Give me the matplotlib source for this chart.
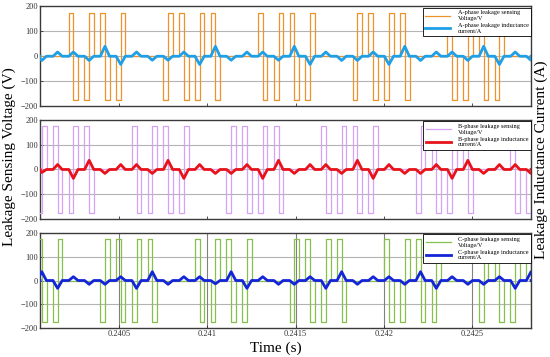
import numpy as np
import matplotlib
matplotlib.use("Agg")
import matplotlib.pyplot as plt

plt.rcParams['font.family'] = ['Liberation Serif', 'DejaVu Serif']

# switching slots (s)
slot_t = [0.2400604, 0.2401499, 0.2402394, 0.2403289, 0.2404184, 0.2405079,
          0.2405974, 0.2406869, 0.2407764, 0.2408659, 0.2409554, 0.2410449,
          0.2411344, 0.2412239, 0.2413134, 0.2414029, 0.2414924, 0.2415819,
          0.2416714, 0.2417609, 0.2418504, 0.2419399, 0.2420294, 0.2421189,
          0.2422084, 0.2422979, 0.2423874, 0.2424769, 0.2425664, 0.2426559,
          0.2427454, 0.2428349]

# sensing voltage pulse pairs per slot: +1 -> (+,-), -1 -> (-,+), 0 -> none
a_pulse = [0, 0, 1, -1, 1, -1, 0, 0, -1, 1, -1, 1, 0, 0, 1, -1,
           1, -1, 0, 0, -1, 1, -1, 1, 0, 0, 1, -1, 1, -1, 0, 0]
b_pulse = [-1, 1, -1, 1, 0, 0, 1, -1, 1, -1, 0, 0, -1, 1, -1, 1,
           0, 0, 1, -1, 1, -1, 0, 0, -1, 1, -1, 1, 0, 0, 1, -1]
c_pulse = [1, -1, 0, 0, -1, 1, -1, 1, 0, 0, 1, -1, 1, -1, 0, 0,
           -1, 1, -1, 1, 0, 0, 1, -1, 1, -1, 0, 0, -1, 1, -1, 1]
v_amp = 175  # V

# leakage inductance current peak at each slot (A)
a_cur = [-17, 17, 17, -17, 40, -33, 17, -16, -16, 17, -33, 40, -16, 17, 17, -16,
         40, -33, 17, -17, -17, 17, -33, 40, -17, 17, 17, -17, 40, -33, 17, -16]
b_cur = [-12, 20, -36, 37, -16, 20, 20, -16, 37, -36, 20, -16, -16, 20, -36, 37,
         -16, 20, 20, -16, 37, -36, 20, -16, -16, 20, -36, 37, -16, 20, 20, -16]
c_cur = [37, -33, 16, -16, -16, 16, -33, 37, -16, 16, 16, -14, 37, -33, 16, -16,
         -16, 16, -33, 37, -16, 16, 16, -16, 37, -33, 16, -16, -16, 16, -33, 37]

xticks = [0.2405, 0.241, 0.2415, 0.242, 0.2425]
xtick_labels = ['0.2405', '0.241', '0.2415', '0.242', '0.2425']
yticks = [-200, -100, 0, 100, 200]
xlim = (0.24005, 0.242835)

pw = 27e-6   # width of one pulse
hw = 26e-6   # half width of a current bump


def voltage_wave(pulses):
    xs, ys = [xlim[0]], [0]
    for t, p in zip(slot_t, pulses):
        if p == 0:
            continue
        xs += [t - pw, t - pw, t, t, t + pw, t + pw]
        ys += [0, p * v_amp, p * v_amp, -p * v_amp, -p * v_amp, 0]
    xs.append(xlim[1]); ys.append(0)
    return xs, ys


def current_wave(vals):
    xs, ys = [xlim[0]], [0]
    for t, v in zip(slot_t, vals):
        xs += [t - hw, t, t + hw]
        ys += [0, v, 0]
    xs.append(xlim[1]); ys.append(0)
    return xs, ys


panels = [
    ('A', a_pulse, a_cur, '#F0922B', '#1E9FE6', [0.9818, 0.7031]),
    ('B', b_pulse, b_cur, '#D6A2F6', '#E8121A', [0.6639, 0.3866]),
    ('C', c_pulse, c_cur, '#86C04A', '#1424D8', [0.3473, 0.0812]),
]

fig = plt.figure(figsize=(5.5, 3.57), dpi=100)
left, right = 40 / 550, 531 / 550

for i, (ph, pulses, cur, vcol, icol, (top, bot)) in enumerate(panels):
    ax = fig.add_axes([left, bot, right - left, top - bot])
    vx, vy = voltage_wave(pulses)
    ix, iy = current_wave(cur)
    lv, = ax.plot(vx, vy, color=vcol, lw=0.9, zorder=3)
    li, = ax.plot(ix, iy, color=icol, lw=2.0, zorder=4)
    ax.set_xlim(*xlim)
    ax.set_ylim(-200, 200)
    ax.set_yticks(yticks)
    ax.set_yticklabels([str(y).replace('-', '\u2212') for y in yticks])
    ax.set_xticks(xticks)
    for y in (-100, 0, 100):
        ax.axhline(y, color='#b4b4b4', lw=0.8, zorder=1)
    if i == 2:
        ax.set_xticklabels(xtick_labels)
        for x in xticks:
            ax.axvline(x, color='#808080', lw=0.8, zorder=1)
    else:
        ax.set_xticklabels([])
        ax.tick_params(axis='x', length=0)
    ax.tick_params(labelsize=6, colors='#333333', length=2, width=0.6,
                   direction='in', pad=1.5)
    for s in ax.spines.values():
        s.set_color('#3a3a3a')
        s.set_linewidth(1.0)
    leg = ax.legend([lv, li],
                    [f'{ph}-phase leakage sensing\nVoltage/V',
                     f'{ph}-phase leakage inductance\ncurrent/A'],
                    loc='upper right', bbox_to_anchor=(1.0, 0.985),
                    fontsize=4.5, frameon=True, fancybox=False,
                    edgecolor='black', framealpha=1, borderpad=0.4,
                    labelspacing=0.3, handlelength=4.0, handletextpad=1.2,
                    borderaxespad=0.0)
    leg.get_frame().set_linewidth(0.6)

fig.text(9 / 550, 1 - 157 / 357, 'Leakage Sensing Voltage (V)', rotation=90,
         ha='center', va='center', fontsize=11)
fig.text(541 / 550, 1 - 160 / 357, 'Leakage Inductance Current (A)', rotation=90,
         ha='center', va='center', fontsize=11)
fig.text(276 / 550, 1 - 348 / 357, 'Time (s)', ha='center', va='center',
         fontsize=11)

fig.savefig('out.png', dpi=100)
